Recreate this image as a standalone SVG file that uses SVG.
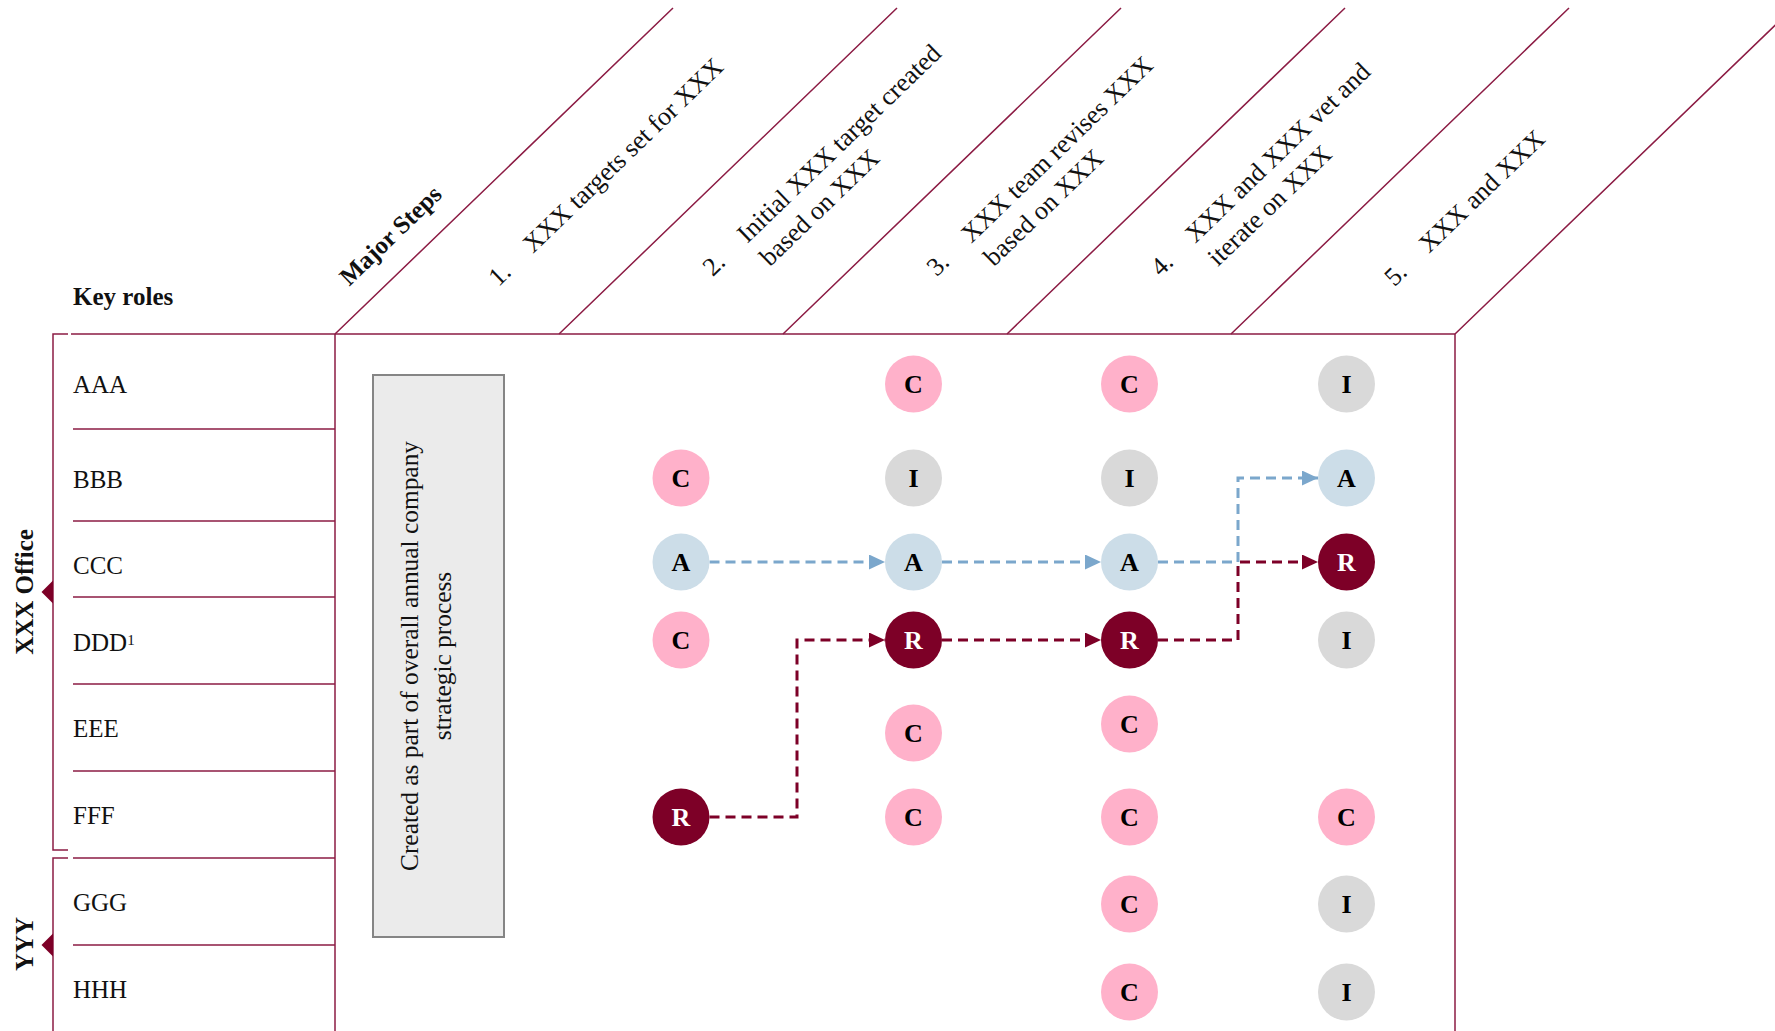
<svg xmlns="http://www.w3.org/2000/svg" width="1775" height="1031" viewBox="0 0 1775 1031">
<style>
.grid{stroke:#8C1C44;stroke-width:1.5;fill:none}
.role{font-family:"Liberation Serif",serif;font-size:25px;fill:#111}
.step{font-family:"Liberation Serif",serif;font-size:26px;fill:#111}
.hdr{font-family:"Liberation Serif",serif;font-size:25px;font-weight:bold;fill:#111}
.box{fill:#EBEBEB;stroke:#858585;stroke-width:2}
.boxt{font-family:"Liberation Serif",serif;font-size:25.4px;fill:#111;text-anchor:middle}
.lt{font-family:"Liberation Serif",serif;font-size:26px;font-weight:bold;text-anchor:middle}
.c{fill:#FFB1CA}.i{fill:#D9D9D9}.a{fill:#CCDDE8}.r{fill:#7D0027}
.dk{fill:#000}.wt{fill:#fff}
.bl{stroke:#7BA7CC;stroke-width:3;stroke-dasharray:10 6;fill:none}
.mr{stroke:#7D0027;stroke-width:3;stroke-dasharray:10 6;fill:none}
</style>
<defs>
<marker id="ab" markerUnits="userSpaceOnUse" markerWidth="16" markerHeight="15" refX="16" refY="7.5" orient="auto"><path d="M0,0 L16,7.5 L0,15 z" fill="#7BA7CC"/></marker>
<marker id="am" markerUnits="userSpaceOnUse" markerWidth="16" markerHeight="15" refX="16" refY="7.5" orient="auto"><path d="M0,0 L16,7.5 L0,15 z" fill="#7D0027"/></marker>
</defs>
<rect width="1775" height="1031" fill="#fff"/>

<g id="frame">
<path class="grid" d="M335,334 L673,8 M559,334 L897,8 M783,334 L1121,8 M1007,334 L1345,8 M1231,334 L1569,8 M1455,334 L1793,8"/>
<path class="grid" d="M71,334 H1455 M335,334 V1031 M1455,334 V1031"/>
<path class="grid" d="M73,429 H335 M73,521 H335 M73,597 H335 M73,684 H335 M73,771 H335 M73,858 H335 M73,945 H335"/>
</g>

<g id="group-xxx-office">
<path class="grid" d="M68,334 H53 V850 H68"/>
<path d="M41.5,592 L53,580.5 L53,603.5 z" fill="#7D0027"/>
<text class="hdr" text-anchor="middle" transform="translate(33,592) rotate(-90)">XXX Office</text>
</g>
<g id="group-yyy">
<path class="grid" d="M68,858 H53 V1040"/>
<path d="M41.5,945 L53,933.5 L53,956.5 z" fill="#7D0027"/>
<text class="hdr" text-anchor="middle" transform="translate(33,944) rotate(-90)">YYY</text>
</g>

<g id="header-key-roles"><text class="hdr" x="73" y="305">Key roles</text></g>
<g id="header-major-steps" transform="translate(335,334) rotate(-44)"><text class="hdr" x="43" y="-24">Major Steps</text></g>

<g id="step-1" transform="translate(335,334) rotate(-44)"><text class="step" x="150" y="80">1.</text><text class="step" x="198" y="80">XXX targets set for XXX</text></g>
<g id="step-2" transform="translate(559,334) rotate(-44)"><text class="step" x="150" y="66">2.</text><text class="step" x="198" y="66">Initial XXX target created</text><text class="step" x="198" y="98.5">based on XXX</text></g>
<g id="step-3" transform="translate(783,334) rotate(-44)"><text class="step" x="150" y="66">3.</text><text class="step" x="198" y="66">XXX team revises XXX</text><text class="step" x="198" y="98.5">based on XXX</text></g>
<g id="step-4" transform="translate(1007,334) rotate(-44)"><text class="step" x="150" y="66">4.</text><text class="step" x="198" y="66">XXX and XXX vet and</text><text class="step" x="198" y="98.5">iterate on XXX</text></g>
<g id="step-5" transform="translate(1231,334) rotate(-44)"><text class="step" x="150" y="80">5.</text><text class="step" x="198" y="80">XXX and XXX</text></g>

<g id="role-aaa"><text class="role" x="73" y="393">AAA</text></g>
<g id="role-bbb"><text class="role" x="73" y="488">BBB</text></g>
<g id="role-ccc"><text class="role" x="73" y="574">CCC</text></g>
<g id="role-ddd"><text class="role" x="73" y="651">DDD<tspan font-size="15" dy="-6">1</tspan></text></g>
<g id="role-eee"><text class="role" x="73" y="737">EEE</text></g>
<g id="role-fff"><text class="role" x="73" y="824">FFF</text></g>
<g id="role-ggg"><text class="role" x="73" y="911">GGG</text></g>
<g id="role-hhh"><text class="role" x="73" y="998">HHH</text></g>

<g id="step1-note">
<rect class="box" x="373" y="375" width="131" height="562"/>
<g transform="translate(418,656) rotate(-90)"><text class="boxt" x="0" y="0">Created as part of overall annual company</text><text class="boxt" x="0" y="33">strategic process</text></g>
</g>

<g id="connectors">
<path class="bl" d="M709.5,562 H885" marker-end="url(#ab)"/>
<path class="bl" d="M942,562 H1101" marker-end="url(#ab)"/>
<path class="bl" d="M1158,562 H1238 V478 H1318" marker-end="url(#ab)"/>
<path class="mr" d="M709.5,817 H797 V640 H885" marker-end="url(#am)"/>
<path class="mr" d="M942,640 H1101" marker-end="url(#am)"/>
<path class="mr" d="M1158,640 H1238 V562 H1318" marker-end="url(#am)"/>
</g>

<g id="n-aaa-2"><circle class="c" cx="913.5" cy="384" r="28.5"/><text class="lt dk" x="913.5" y="393">C</text></g>
<g id="n-aaa-3"><circle class="c" cx="1129.5" cy="384" r="28.5"/><text class="lt dk" x="1129.5" y="393">C</text></g>
<g id="n-aaa-4"><circle class="i" cx="1346.5" cy="384" r="28.5"/><text class="lt dk" x="1346.5" y="393">I</text></g>

<g id="n-bbb-1"><circle class="c" cx="681" cy="478" r="28.5"/><text class="lt dk" x="681" y="487">C</text></g>
<g id="n-bbb-2"><circle class="i" cx="913.5" cy="478" r="28.5"/><text class="lt dk" x="913.5" y="487">I</text></g>
<g id="n-bbb-3"><circle class="i" cx="1129.5" cy="478" r="28.5"/><text class="lt dk" x="1129.5" y="487">I</text></g>
<g id="n-bbb-4"><circle class="a" cx="1346.5" cy="478" r="28.5"/><text class="lt dk" x="1346.5" y="487">A</text></g>

<g id="n-ccc-1"><circle class="a" cx="681" cy="562" r="28.5"/><text class="lt dk" x="681" y="571">A</text></g>
<g id="n-ccc-2"><circle class="a" cx="913.5" cy="562" r="28.5"/><text class="lt dk" x="913.5" y="571">A</text></g>
<g id="n-ccc-3"><circle class="a" cx="1129.5" cy="562" r="28.5"/><text class="lt dk" x="1129.5" y="571">A</text></g>
<g id="n-ccc-4"><circle class="r" cx="1346.5" cy="562" r="28.5"/><text class="lt wt" x="1346.5" y="571">R</text></g>

<g id="n-ddd-1"><circle class="c" cx="681" cy="640" r="28.5"/><text class="lt dk" x="681" y="649">C</text></g>
<g id="n-ddd-2"><circle class="r" cx="913.5" cy="640" r="28.5"/><text class="lt wt" x="913.5" y="649">R</text></g>
<g id="n-ddd-3"><circle class="r" cx="1129.5" cy="640" r="28.5"/><text class="lt wt" x="1129.5" y="649">R</text></g>
<g id="n-ddd-4"><circle class="i" cx="1346.5" cy="640" r="28.5"/><text class="lt dk" x="1346.5" y="649">I</text></g>

<g id="n-eee-2"><circle class="c" cx="913.5" cy="733" r="28.5"/><text class="lt dk" x="913.5" y="742">C</text></g>
<g id="n-eee-3"><circle class="c" cx="1129.5" cy="724" r="28.5"/><text class="lt dk" x="1129.5" y="733">C</text></g>

<g id="n-fff-1"><circle class="r" cx="681" cy="817" r="28.5"/><text class="lt wt" x="681" y="826">R</text></g>
<g id="n-fff-2"><circle class="c" cx="913.5" cy="817" r="28.5"/><text class="lt dk" x="913.5" y="826">C</text></g>
<g id="n-fff-3"><circle class="c" cx="1129.5" cy="817" r="28.5"/><text class="lt dk" x="1129.5" y="826">C</text></g>
<g id="n-fff-4"><circle class="c" cx="1346.5" cy="817" r="28.5"/><text class="lt dk" x="1346.5" y="826">C</text></g>

<g id="n-ggg-3"><circle class="c" cx="1129.5" cy="904" r="28.5"/><text class="lt dk" x="1129.5" y="913">C</text></g>
<g id="n-ggg-4"><circle class="i" cx="1346.5" cy="904" r="28.5"/><text class="lt dk" x="1346.5" y="913">I</text></g>

<g id="n-hhh-3"><circle class="c" cx="1129.5" cy="992" r="28.5"/><text class="lt dk" x="1129.5" y="1001">C</text></g>
<g id="n-hhh-4"><circle class="i" cx="1346.5" cy="992" r="28.5"/><text class="lt dk" x="1346.5" y="1001">I</text></g>
</svg>
